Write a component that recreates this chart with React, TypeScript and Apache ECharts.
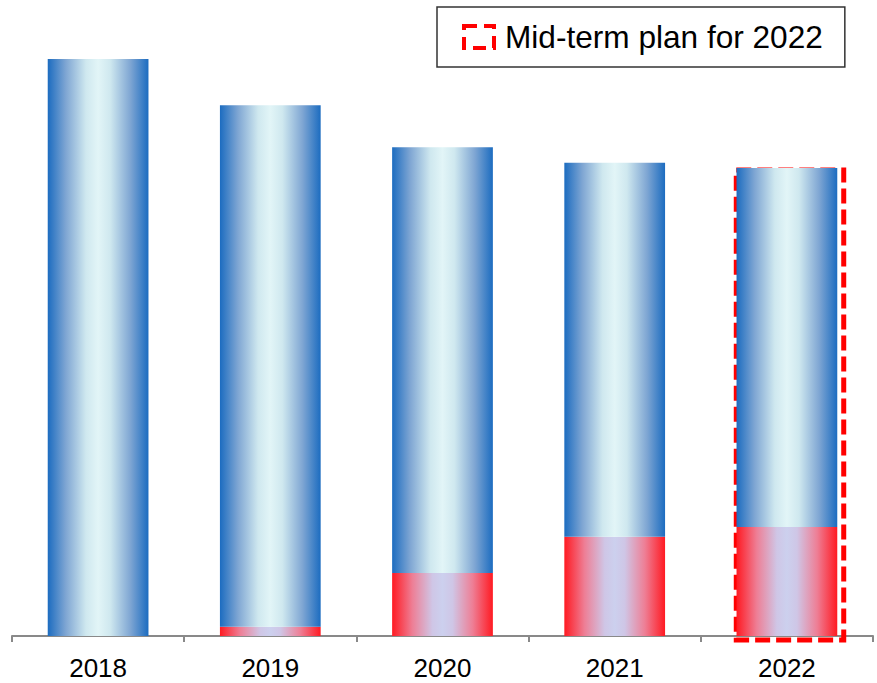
import React, { useEffect, useRef } from "react";
import * as echarts from "echarts";

const categories = ["2018", "2019", "2020", "2021", "2022"];
const redValues = [0, 1.6, 10.9, 17.2, 18.9];
const blueValues = [100, 90.4, 73.8, 64.8, 62.2];
const planIndex = 4;
const planName = "Mid-term plan for 2022";

const blueGrad = new echarts.graphic.LinearGradient(0, 0, 1, 0, [
  { offset: 0, color: "#1C6CC0" },
  { offset: 0.18, color: "#7FA6D3" },
  { offset: 0.38, color: "#CFE8EF" },
  { offset: 0.5, color: "#E2F5F7" },
  { offset: 0.62, color: "#CFE8EF" },
  { offset: 0.82, color: "#7FA6D3" },
  { offset: 1, color: "#1C6CC0" },
]);
const redGrad = new echarts.graphic.LinearGradient(0, 0, 1, 0, [
  { offset: 0, color: "#FF1A22" },
  { offset: 0.2, color: "#EE7E95" },
  { offset: 0.4, color: "#CFC6E6" },
  { offset: 0.5, color: "#CCD0EE" },
  { offset: 0.6, color: "#CFC6E6" },
  { offset: 0.8, color: "#EE7E95" },
  { offset: 1, color: "#FF1A22" },
]);

export default function App() {
  const ref = useRef<HTMLDivElement>(null);
  useEffect(() => {
    const chart = echarts.init(ref.current!, null, { renderer: "svg" });
    const totals = categories.map((_, i) => redValues[i] + blueValues[i]);
    chart.setOption({
      animation: false,
      grid: { left: 12, right: 4, top: 59, bottom: 47 },
      legend: {
        left: 437,
        top: 7,
        padding: [13, 22, 13, 25],
        borderColor: "#333",
        borderWidth: 1.5,
        itemWidth: 30,
        itemHeight: 22,
        data: [
          {
            name: planName,
            icon: "rect",
            itemStyle: {
              color: "rgba(0,0,0,0)",
              borderColor: "#FF0000",
              borderWidth: 4,
              borderType: [13, 7],
            },
          },
        ],
        textStyle: {
          fontFamily: "Arial, 'Liberation Sans', sans-serif",
          fontSize: 31.6,
          lineHeight: 34,
          color: "#000",
          padding: [0, 0, 0, 6],
        },
      },
      xAxis: {
        type: "category",
        data: categories,
        axisLine: { lineStyle: { color: "#898989", width: 2 } },
        axisTick: { show: true, length: 6, lineStyle: { color: "#898989", width: 2 } },
        axisLabel: {
          color: "#000",
          fontSize: 26,
          fontFamily: "Arial, 'Liberation Sans', sans-serif",
          margin: 19,
        },
      },
      yAxis: { type: "value", min: 0, max: 100, show: false, splitLine: { show: false } },
      series: [
        {
          type: "custom",
          name: planName,
          z: 1,
          data: [[planIndex, totals[planIndex]]],
          renderItem: (params: any, api: any) => {
            const idx = api.value(0);
            const v = api.value(1);
            const top = api.coord([idx, v]);
            const bot = api.coord([idx, 0]);
            const bw = api.size([1, 0])[0];
            return {
              type: "rect",
              shape: {
                x: top[0] - bw * 0.294,
                y: top[1] + 2,
                width: bw * 0.624,
                height: bot[1] - top[1] + 2,
              },
              style: { fill: "none", stroke: "#FF0000", lineWidth: 5, lineDash: [15, 6] },
            };
          },
        },
        {
          type: "bar",
          name: "red",
          stack: "t",
          z: 3,
          barWidth: "58.5%",
          data: redValues,
          itemStyle: { color: redGrad },
        },
        {
          type: "bar",
          name: "blue",
          stack: "t",
          z: 3,
          barWidth: "58.5%",
          data: blueValues,
          itemStyle: { color: blueGrad },
        },
      ],
    });
    return () => chart.dispose();
  }, []);
  return <div ref={ref} style={{ width: 877, height: 683, position: "absolute", left: 0, top: 0 }} />;
}
